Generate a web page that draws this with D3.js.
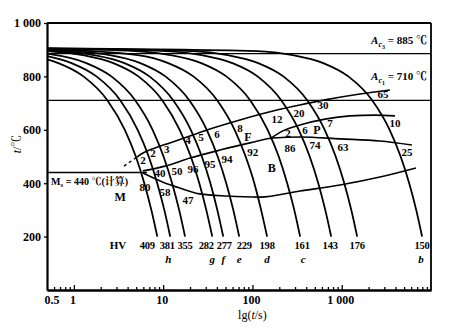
<!DOCTYPE html>
<html>
<head>
<meta charset="utf-8">
<script src="https://cdn.jsdelivr.net/npm/d3@7"></script>
<style>
  html, body { margin: 0; padding: 0; background: #fff; }
  svg { display: block; }
  text { font-family: "Liberation Serif", "Noto Serif CJK SC", "Noto Sans CJK SC", serif; fill: #000; }
</style>
</head>
<body>
<svg id="chart" width="464" height="332"></svg>
<script>
// Critical temperatures (°C)
const Ac3 = 885;
const Ac1 = 710;
const Ms = 440;

// Continuous cooling curves: [time s, temperature °C], slowest last
const coolingPaths = [
  [[0.5,864],[0.67,850],[1.28,800],[2.38,710],[3.72,600],[4.94,500],[6.15,400],[7.37,300],[8.6,200]],
  [[0.5,876],[0.94,850],[1.79,800],[3.32,710],[5.18,600],[6.89,500],[8.58,400],[10.3,300],[12.0,200]],
  [[0.5,885],[1.38,850],[2.63,800],[4.88,710],[7.62,600],[10.1,500],[12.6,400],[15.1,300],[17.6,200]],
  [[0.5,895],[1.26,880],[2.77,850],[5.28,800],[9.81,710],[15.3,600],[20.4,500],[25.4,400],[30.4,300],[35.5,200]],
  [[0.5,897],[1.67,880],[3.68,850],[7.02,800],[13.0,710],[20.4,600],[27.1,500],[33.8,400],[40.4,300],[47.1,200]],
  [[0.5,900],[2.52,880],[5.55,850],[10.6,800],[19.7,710],[30.8,600],[40.8,500],[50.9,400],[61.0,300],[71.1,200]],
  [[0.5,902],[5.18,880],[11.4,850],[21.8,800],[40.4,710],[63.2,600],[83.9,500],[105,400],[125,300],[146,200]],
  [[0.5,904],[4.86,895],[12.1,880],[26.7,850],[51,800],[94.7,710],[148,600],[197,500],[245,400],[294,300],[342,200]],
  [[0.5,904],[10.8,895],[27,880],[59.5,850],[114,800],[211,710],[330,600],[438,500],[546,400],[654,300],[762,200]],
  [[0.5,905],[21.2,895],[52.8,880],[116,850],[222,800],[412,710],[645,600],[856,500],[1068,400],[1279,300],[1490,200]],
  [[0.5,905],[113,895],[282,880],[621,850],[1185,800],[2201,710],[3442,600],[4571,500],[5699,400],[6828,300],[7950,200]]
];

// Final hardness of each cooling curve and its letter
const hardnessHV = [409, 381, 355, 282, 277, 229, 198, 161, 143, 176, 150];
const curveLetters = ["", "h", "", "g", "f", "e", "d", "c", "", "", "b"];
const hvLabelShift = [-10, -3, 0, -6, 1, 5, 0, 2, -1, 0, 0];
const letterShift = [0, -2, 0, 0, 0, 0, 0, 3, 0, 0, -1];

// Transformation lines: [time s, temperature °C]
const ferriteStart = [[5.09,498],[5.94,513],[8.10,532],[11.9,551],[18.5,573],[33.4,603],[72.5,637],[188,674],[340,693],[649,712],[1600,734],[3467,749]];
const ferriteStartDashed = [[3.64,464],[5.09,498]];
const bainiteStart = [[5.94,446],[10.5,464],[19.97,494],[43.3,524],[93.8,551],[170,569],[340,573],[955,566],[2680,558],[6113,543]];
const pearliteStart = [[157,566],[220,596],[340,618],[649,640],[1237,652],[2355,655],[3945,652]];
const bainiteFinish = [[5.94,438],[9.95,404],[15.4,382],[25.8,360],[51.8,352],[121,348],[340,371],[955,393],[2680,423],[6778,457]];
const msLine = [[0.5,Ms],[6.59,Ms]];

// Percent of each structure formed, placed at [time s, temperature °C]
const percentLabels = [
  ["2",5.94,487],["2",7.69,513],["3",11.0,528],["4",18.97,562],["5",26.5,573],["6",40.1,584],
  ["8",72.5,607],["12",188,640],["20",332,663],["30",616,693],["65",2895,734],
  ["2",250,588],["6",387,599],["7",738,625],["10",3945,625],
  ["40",9.21,438],["50",14.3,446],["96",21.6,453],["95",33.4,472],["94",51.8,491],["92",101,517],
  ["86",263,532],["74",501,543],["63",1032,536],["25",5375,517],
  ["80",6.26,386],["58",10.5,367],["47",18.97,337]
];
const phaseLetters = [["F",89,573],["P",528,599],["B",165,457],["M",3.29,348]];

const xTicksMajor = [1, 10, 100, 1000];
const xTickLabels = ["0.5", "1", "10", "100", "1 000"];
const xTickLabelValues = [0.5, 1, 10, 100, 1000];
const yTickValues = [200, 400, 600, 800, 1000];
const yTickLabels = ["200", "400", "600", "800", "1 000"];

const svg = d3.select("#chart");
const x = d3.scaleLog().domain([0.5, 10000]).range([47, 431]);
const y = d3.scaleLinear().domain([0, 1000]).range([290, 23]);

const line = d3.line().x(d => x(d[0])).y(d => y(d[1])).curve(d3.curveMonotoneX);

// Horizontal critical-temperature lines
[Ac3, Ac1].forEach(v => {
  svg.append("line")
    .attr("x1", x(0.5)).attr("x2", x(10000))
    .attr("y1", y(v)).attr("y2", y(v))
    .attr("stroke", "#000").attr("stroke-width", 1.3);
});
svg.append("path").attr("d", line(msLine))
  .attr("fill", "none").attr("stroke", "#000").attr("stroke-width", 1.3);

// Cooling curves
svg.append("g").selectAll("path").data(coolingPaths).join("path")
  .attr("d", line)
  .attr("fill", "none").attr("stroke", "#000").attr("stroke-width", 1.8);

// Transformation start / finish lines
[ferriteStart, bainiteStart, pearliteStart, bainiteFinish].forEach(p => {
  svg.append("path").attr("d", line(p))
    .attr("fill", "none").attr("stroke", "#000").attr("stroke-width", 1.6);
});
svg.append("path").attr("d", line(ferriteStartDashed))
  .attr("fill", "none").attr("stroke", "#000").attr("stroke-width", 1.4)
  .attr("stroke-dasharray", "3,3");

// Frame
svg.append("line").attr("x1", x(0.5)).attr("x2", x(10000)).attr("y1", y(1000)).attr("y2", y(1000))
  .attr("stroke", "#000").attr("stroke-width", 1.8);
svg.append("line").attr("x1", x(10000)).attr("x2", x(10000)).attr("y1", y(1000)).attr("y2", y(0))
  .attr("stroke", "#000").attr("stroke-width", 1.8);

// X axis: ticks point inward
const minorTicks = [];
[0.1, 1, 10, 100, 1000].forEach(dec => {
  for (let k = 2; k <= 9; k++) {
    const v = dec * k;
    if (v > 0.5 && v < 10000) minorTicks.push(v);
  }
});
const gx = svg.append("g").attr("transform", `translate(0,${y(0)})`);
gx.call(d3.axisBottom(x).tickValues(minorTicks).tickSize(-3).tickSizeOuter(0).tickFormat(""));
gx.append("g").call(d3.axisBottom(x).tickValues(xTicksMajor).tickSize(-5).tickSizeOuter(0).tickFormat(""));
gx.selectAll(".domain").attr("stroke-width", 2.2);
gx.selectAll(".tick line").attr("stroke-width", 1.3);
gx.selectAll("text.xl").data(xTickLabelValues).join("text")
  .attr("class", "xl")
  .attr("x", (d, i) => i === 0 ? x(d) + 5 : x(d) - 1)
  .attr("y", 304)
  .attr("text-anchor", "middle")
  .attr("transform", `translate(0,${-y(0)})`)
  .attr("font-size", 12).attr("font-weight", "bold")
  .text((d, i) => xTickLabels[i]);

// Y axis
const gy = svg.append("g").attr("transform", `translate(${x(0.5)},0)`);
gy.call(d3.axisLeft(y).tickValues(yTickValues).tickSize(3).tickSizeOuter(0).tickPadding(3)
  .tickFormat((d, i) => yTickLabels[i]));
gy.select(".domain").attr("stroke-width", 2.2);
gy.selectAll(".tick line").attr("stroke-width", 1.3);
gy.selectAll(".tick text")
  .attr("font-family", "Liberation Serif, serif").attr("font-size", 12).attr("font-weight", "bold");

// Axis titles
svg.append("text").attr("transform", "translate(21,144) rotate(-90)")
  .attr("text-anchor", "middle").attr("font-size", 12)
  .call(t => {
    t.append("tspan").attr("font-style", "italic").text("t");
    t.append("tspan").text("/℃");
  });
svg.append("text").attr("x", x(100)).attr("y", 319)
  .attr("text-anchor", "middle").attr("font-size", 12)
  .call(t => {
    t.append("tspan").text("lg(");
    t.append("tspan").attr("font-style", "italic").text("t");
    t.append("tspan").text("/s)");
  });

// Critical temperature labels
function acLabel(sub, value, yPos) {
  const t = svg.append("text").attr("x", 427).attr("y", yPos)
    .attr("text-anchor", "end").attr("font-size", 11).attr("font-weight", "bold");
  t.append("tspan").attr("font-style", "italic").text("A");
  t.append("tspan").attr("font-style", "italic").attr("font-size", 8).attr("dy", 3).text("c");
  t.append("tspan").attr("font-size", 6).attr("dy", 2).text(sub);
  t.append("tspan").attr("dy", -5).text(" = " + value + " ℃");
}
acLabel("3", Ac3, y(Ac3) - 10);
acLabel("1", Ac1, y(Ac1) - 20);

// Ms label
const msText = svg.append("text").attr("x", 51).attr("y", y(Ms) + 12)
  .attr("font-size", 10).attr("font-weight", "bold");
msText.append("tspan").text("M");
msText.append("tspan").attr("font-size", 7).attr("dy", 2).text("s");
msText.append("tspan").attr("dy", -2).text(" = " + Ms + " ℃(计算)");

// Percentages and phase letters
svg.append("g").selectAll("text").data(percentLabels).join("text")
  .attr("x", d => x(d[1])).attr("y", d => y(d[2])).attr("dy", "0.35em")
  .attr("text-anchor", "middle").attr("font-size", 11).attr("font-weight", "bold")
  .text(d => d[0]);
svg.append("g").selectAll("text").data(phaseLetters).join("text")
  .attr("x", d => x(d[1])).attr("y", d => y(d[2])).attr("dy", "0.35em")
  .attr("text-anchor", "middle").attr("font-size", 12).attr("font-weight", "bold")
  .text(d => d[0]);

// Hardness values under each cooling curve
svg.append("text").attr("x", 118).attr("y", 249).attr("text-anchor", "middle")
  .attr("font-size", 11).attr("font-weight", "bold").text("HV");
svg.append("g").selectAll("text").data(hardnessHV).join("text")
  .attr("x", (d, i) => x(coolingPaths[i][coolingPaths[i].length - 1][0]) + hvLabelShift[i])
  .attr("y", 249).attr("text-anchor", "middle")
  .attr("font-size", 10.5).attr("letter-spacing", -0.2).attr("font-weight", "bold").text(d => d);
svg.append("g").selectAll("text").data(curveLetters).join("text")
  .attr("x", (d, i) => x(coolingPaths[i][coolingPaths[i].length - 1][0]) + letterShift[i])
  .attr("y", 263).attr("text-anchor", "middle")
  .attr("font-size", 11).attr("font-style", "italic").attr("font-weight", "bold").text(d => d);
</script>
</body>
</html>
